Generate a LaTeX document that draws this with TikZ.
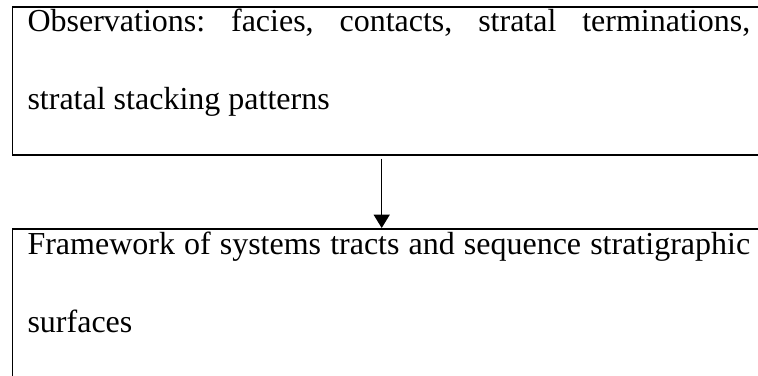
\documentclass[tikz,border=0pt]{standalone}
\usepackage{fontspec}
\setmainfont{Liberation Serif}
\usetikzlibrary{arrows.meta}
\frenchspacing
\begin{document}
\begin{tikzpicture}[x=0.375pt,y=-0.375pt,
  frame/.style={draw, line width=0.7pt, anchor=north west, inner sep=0pt, minimum width=300pt},
  txt/.style={anchor=base west, inner sep=0pt},
  conn/.style={draw, line width=0.5pt, shorten <=1pt, -{Triangle[length=5pt,width=6pt]}}]
\useasboundingbox (0,0) rectangle (758,376);
\clip (0,0) rectangle (758,376);
\node[frame, minimum height=55.5pt] (obs) at (11.5,6) {};
\node[frame, minimum height=80pt] (fw) at (11.5,228) {};
\node[txt] (obstext) at (27,32) {\parbox[t]{271pt}{\fontsize{12}{29}\selectfont\frenchspacing Observations: facies, contacts, stratal terminations,\linebreak stratal stacking patterns}};
\node[txt] (fwtext) at (27,255) {\parbox[t]{271pt}{\fontsize{12}{29}\selectfont\frenchspacing Framework of systems tracts and sequence stratigraphic\linebreak surfaces}};
\coordinate (ax) at (381.7,0);
\draw[conn] (obs.south -| ax) -- (fw.north -| ax);
\end{tikzpicture}
\end{document}
